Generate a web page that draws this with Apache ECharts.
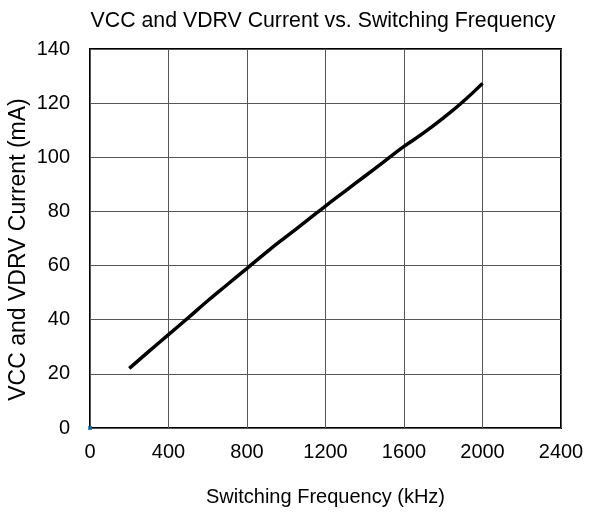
<!DOCTYPE html>
<html><head><meta charset="utf-8">
<script src="https://cdn.jsdelivr.net/npm/echarts@6/dist/echarts.min.js"></script>
<style>html,body{margin:0;padding:0;background:#fff}#c{width:590px;height:515px}</style>
</head><body><div id="c"></div>
<script>
const freq = [200,300,400,500,600,700,800,900,1000,1100,1200,1300,1400,1500,1600,1700,1800,1900,2000];
const current = [22,28.3,34.5,40.7,47,53,59,65,70.7,76.3,82,87.5,93,98.5,104,109,114.5,120.5,127.3];
const originPoint = [[0,0]];
const xTicks = [0,400,800,1200,1600,2000,2400];
const yTicks = [0,20,40,60,80,100,120,140];
const F = 'Liberation Sans, Arial, sans-serif';
const chart = echarts.init(document.getElementById('c'));
chart.setOption({
  animation:false,
  title:{text:'VCC and VDRV Current vs. Switching Frequency',left:318,top:6,textAlign:'center',
    textStyle:{fontFamily:F,fontSize:21.3,fontWeight:'normal',color:'#000'}},
  grid:{left:90,right:29,top:49,bottom:87,show:true,borderColor:'#000',borderWidth:2,
    containLabel:false,outerBoundsMode:'none'},
  xAxis:{type:'value',min:xTicks[0],max:xTicks[xTicks.length-1],interval:400,
    name:'Switching Frequency (kHz)',nameLocation:'middle',nameGap:59,nameMoveOverlap:false,
    nameTextStyle:{fontFamily:F,fontSize:20,color:'#000'},
    axisLine:{show:false},axisTick:{show:false},
    axisLabel:{fontFamily:F,fontSize:20,color:'#000',margin:14,formatter:v=>String(v)},
    splitLine:{lineStyle:{color:'#555',width:1}}},
  yAxis:{type:'value',min:yTicks[0],max:yTicks[yTicks.length-1],interval:20,
    name:'VCC and VDRV Current (mA)',nameLocation:'middle',nameGap:60,nameMoveOverlap:false,
    nameTextStyle:{fontFamily:F,fontSize:23,color:'#000',padding:[0,22,0,0]},
    axisLine:{show:false},axisTick:{show:false},
    axisLabel:{fontFamily:F,fontSize:20,color:'#000',margin:20},
    splitLine:{lineStyle:{color:'#555',width:1}}},
  series:[
    {type:'line',data:freq.map((f,i)=>[f,current[i]]),showSymbol:false,smooth:true,
     lineStyle:{color:'#000',width:3.5},z:3},
    {type:'scatter',data:originPoint,symbol:'rect',symbolSize:4,itemStyle:{color:'#0070C0'},z:4}
  ]
});
</script></body></html>
